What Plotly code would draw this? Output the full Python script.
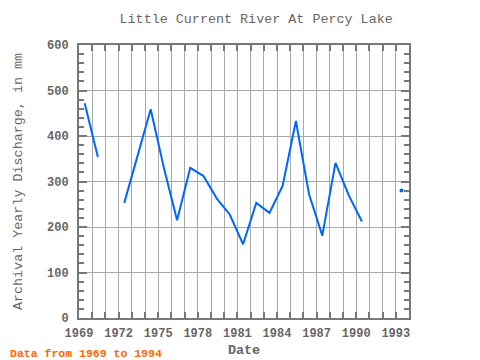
import plotly.graph_objects as go

years = [1969, 1970, 1971, 1972, 1973, 1974, 1975, 1976, 1977, 1978, 1979, 1980,
         1981, 1982, 1983, 1984, 1985, 1986, 1987, 1988, 1989, 1990, 1991, 1992, 1993]
discharge = [472, 354, None, 253, 355, 459, 330, 215, 330, 312, 263, 227,
             162, 253, 231, 291, 433, 272, 181, 341, 270, 212, None, None, 280]

x_tick_vals = [1969, 1972, 1975, 1978, 1981, 1984, 1987, 1990, 1993]

offset = 0.43
xs = [y + offset for y in years]

iso_x, iso_y = [], []
for i, v in enumerate(discharge):
    if v is None:
        continue
    prev_none = i == 0 or discharge[i - 1] is None
    next_none = i == len(discharge) - 1 or discharge[i + 1] is None
    if prev_none and next_none:
        iso_x.append(xs[i])
        iso_y.append(v)

font = "Liberation Mono, DejaVu Sans Mono, monospace"
blue = "#0066ff"
fig = go.Figure()
fig.add_trace(go.Scatter(x=xs, y=discharge, mode="lines", line=dict(color=blue, width=2),
                         connectgaps=False, showlegend=False))
fig.add_trace(go.Scatter(x=iso_x, y=iso_y, mode="markers", marker=dict(color=blue, size=4),
                         showlegend=False))

axis_common = dict(showline=True, linecolor="#777", linewidth=2, mirror="allticks",
                   ticks="inside", tickcolor="#777", tickwidth=2, automargin=False,
                   gridcolor="#aaaaaa", gridwidth=1, zeroline=False,
                   tickfont=dict(family=font, size=12, color="#666", weight="bold"))

fig.update_xaxes(range=[1969, 1994], tickvals=x_tick_vals, ticklen=6, ticklabelstandoff=3,
                 minor=dict(dtick=1, tick0=1969, ticks="inside", ticklen=6, tickcolor="#777",
                            tickwidth=2, showgrid=True, gridcolor="#aaaaaa", gridwidth=1),
                 title=dict(text="Date", font=dict(family=font, size=13.4, color="#666", weight="bold"),
                            standoff=4),
                 **axis_common)
fig.update_yaxes(range=[0, 600], dtick=100, ticklen=8, ticklabelstandoff=6,
                 minor=dict(dtick=20, ticks="inside", ticklen=5, tickcolor="#777", tickwidth=2,
                            showgrid=False),
                 title=dict(text="Archival Yearly Discharge, in mm",
                            font=dict(family=font, size=13.4, color="#666"), standoff=21),
                 **axis_common)

fig.update_layout(
    width=480, height=360,
    margin=dict(l=71, r=79, t=37, b=50),
    paper_bgcolor="white", plot_bgcolor="white",
    title=dict(text="Little Current River At Percy Lake", x=0.517, xanchor="center",
               y=0.972, yanchor="middle", automargin=False,
               font=dict(family=font, size=13.4, color="#666")),
    annotations=[dict(text="<b>Data from 1969 to 1994</b>", xref="paper", yref="paper",
                      x=-71/330, y=-35/273, xanchor="left", yanchor="middle", showarrow=False,
                      font=dict(family=font, size=11.5, color="#ff6600"))],
)

fig.write_html("out.html")
